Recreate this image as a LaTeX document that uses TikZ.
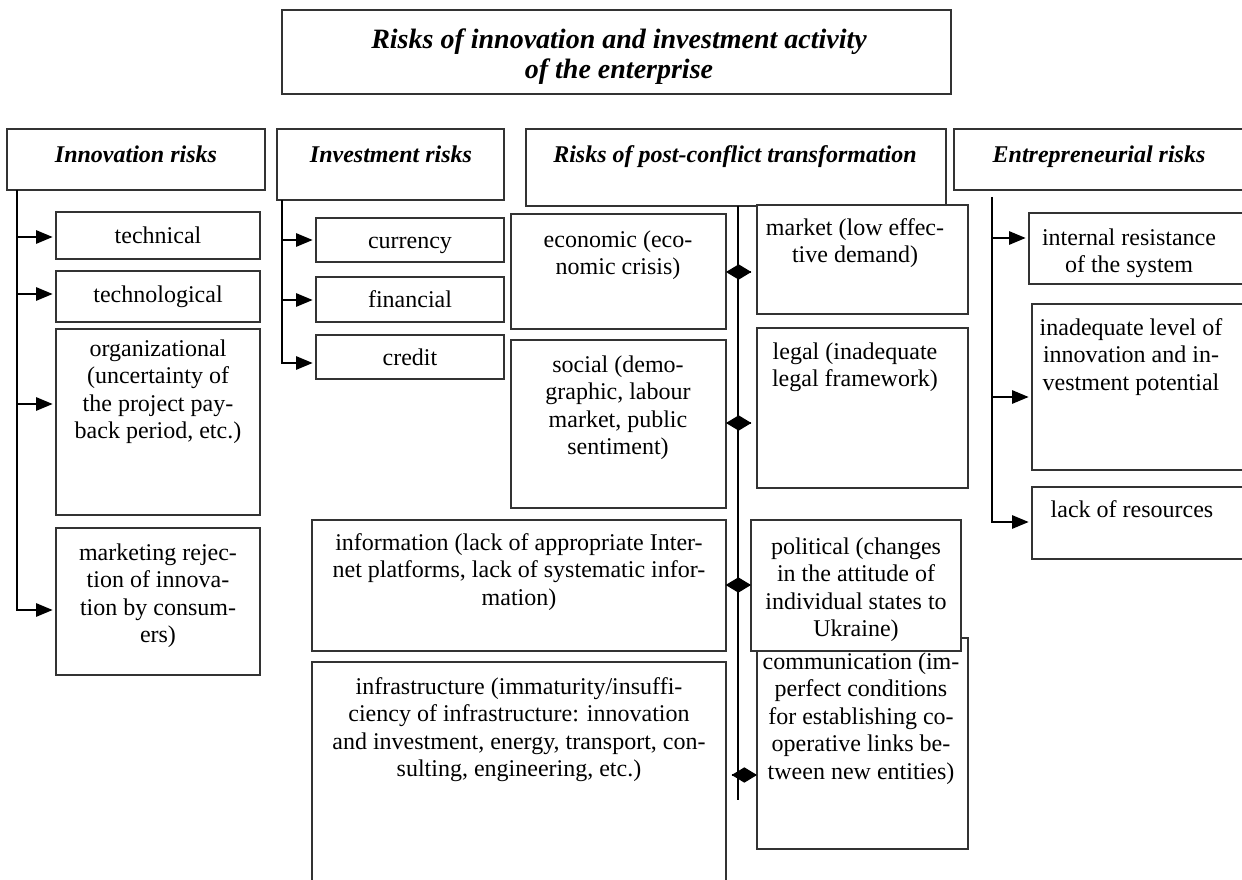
\documentclass[tikz,border=0pt]{standalone}
\usepackage{fontspec}
\setmainfont{Liberation Serif}
\usetikzlibrary{arrows.meta,fit}
\newcommand\bodyf{\fontsize{18}{20.6}\selectfont}
\newcommand\headf{\fontsize{18}{20.6}\selectfont\bfseries\itshape}
\newcommand\titlef{\fontsize{21}{22.8}\selectfont\bfseries\itshape}
\definecolor{boxc}{HTML}{333333}
\begin{document}
\begin{tikzpicture}[x=0.75pt,y=-0.75pt,
  box/.style={draw=boxc, line width=1.1pt, fill=white, inner sep=0pt, outer sep=0pt},
  txt/.style={font=\bodyf, align=center, inner sep=0pt, anchor=north},
  hd/.style={font=\headf, align=center, inner sep=0pt, anchor=north},
  ttl/.style={font=\titlef, align=center, inner sep=0pt, anchor=north},
  ln/.style={line width=1.5pt, black},
  arr/.style={ln, -{Triangle[length=12.5pt,width=10pt]}, shorten >=2.5pt},
  dia/.style={ln, -{Diamond[length=19pt,width=11.5pt]}},
]
\useasboundingbox (0,0) rectangle (1242,880);
\clip (0,0) rectangle (1242,880);
\fill[white] (0,0) rectangle (1242,880);

% title
\node[box, fit={(282,10) (951,94)}] (title) {};
\node[ttl] (title-t) at (619,27) {\strut Risks of innovation and investment activity\\of the enterprise};

% headers
\node[box, fit={(7,129) (265,190)}] (innov) {};
\node[hd] (innov-t) at (136,143) {\strut Innovation risks};
\node[box, fit={(277,129) (504,200)}] (invest) {};
\node[hd] (invest-t) at (391,143) {\strut Investment risks};
\node[box, fit={(526,129) (946,206)}] (post) {};
\node[hd] (post-t) at (735,143) {\strut Risks of post-conflict transformation};
\node[box, fit={(954,129) (1260,190)}] (entre) {};
\node[hd] (entre-t) at (1099,143) {\strut Entrepreneurial risks};

% innovation risks
\node[box, fit={(56,212) (260,259)}] (tech) {};
\node[txt] (tech-t) at (158,224) {\strut technical};
\node[box, fit={(56,271) (260,322)}] (techn) {};
\node[txt] (techn-t) at (158,283) {\strut technological};
\node[box, fit={(56,329) (260,515)}] (org) {};
\node[txt] (org-t) at (158,337) {\strut organizational\\(uncertainty of\\the project pay-\\back period, etc.)};
\node[box, fit={(56,528) (260,675)}] (mark) {};
\node[txt] (mark-t) at (158,541) {\strut marketing rejec-\\tion of innova-\\tion by consum-\\ers)};

% investment risks
\node[box, fit={(316,218) (504,262)}] (cur) {};
\node[txt] (cur-t) at (410,229) {\strut currency};
\node[box, fit={(316,277) (504,322)}] (fin) {};
\node[txt] (fin-t) at (410,288) {\strut financial};
\node[box, fit={(316,335) (504,379)}] (cred) {};
\node[txt] (cred-t) at (410,346) {\strut credit};

% post-conflict transformation risks
\node[box, fit={(511,214) (726,329)}] (econ) {};
\node[txt] (econ-t) at (618,228) {\strut economic (eco-\\nomic crisis)};
\node[box, fit={(511,340) (726,508)}] (soc) {};
\node[txt] (soc-t) at (618,353) {\strut social (demo-\\graphic, labour\\market, public\\sentiment)};
\node[box, fit={(757,205) (968,314)}] (mkt) {};
\node[txt] (mkt-t) at (855,216) {\strut market (low effec-\\tive demand)};
\node[box, fit={(757,328) (968,488)}] (legal) {};
\node[txt] (legal-t) at (855,340) {\strut legal (inadequate\\legal framework)};
\node[box, fit={(312,520) (726,651)}] (info) {};
\node[txt] (info-t) at (519,531) {\strut information (lack of appropriate Inter-\\net platforms, lack of systematic infor-\\mation)};
\node[box, fit={(312,662) (726,900)}] (infra) {};
\node[txt] (infra-t) at (519,675) {\strut infrastructure (immaturity/insuffi-\\ciency of infrastructure: innovation\\and investment, energy, transport, con-\\sulting, engineering, etc.)};
\node[box, fit={(757,638) (968,849)}] (comm) {};
\node[txt] (comm-t) at (861,650) {\strut communication (im-\\perfect conditions\\for establishing co-\\operative links be-\\tween new entities)};
\node[box, fit={(751,520) (961,651)}] (pol) {};
\node[txt] (pol-t) at (856,535) {\strut political (changes\\in the attitude of\\individual states to\\Ukraine)};

% entrepreneurial risks
\node[box, fit={(1029,213) (1260,284)}] (intr) {};
\node[txt] (intr-t) at (1129,226) {\strut internal resistance\\of the system};
\node[box, fit={(1032,304) (1260,470)}] (inad) {};
\node[txt] (inad-t) at (1131,316) {\strut inadequate level of\\innovation and in-\\vestment potential};
\node[box, fit={(1032,487) (1260,559)}] (lack) {};
\node[txt] (lack-t) at (1132,498) {\strut lack of resources};

% connectors: innovation
\coordinate (itop) at (17,190);
\coordinate (i1) at (17,237);
\coordinate (i2) at (17,294);
\coordinate (i3) at (17,404);
\coordinate (i4) at (17,610);
\draw[arr] (itop) -- (i4) -- (i4 -| mark.west);
\draw[arr] (i1) -- (i1 -| tech.west);
\draw[arr] (i2) -- (i2 -| techn.west);
\draw[arr] (i3) -- (i3 -| org.west);

% connectors: investment
\coordinate (vtop) at (282,200);
\coordinate (v1) at (282,240);
\coordinate (v2) at (282,300);
\coordinate (v3) at (282,363);
\draw[arr] (vtop) -- (v3) -- (v3 -| cred.west);
\draw[arr] (v1) -- (v1 -| cur.west);
\draw[arr] (v2) -- (v2 -| fin.west);

% connectors: post-conflict
\coordinate (ptop) at (737.5,206);
\coordinate (pbot) at (737.5,800);
\draw[ln] (ptop) -- (pbot);
\coordinate (p1) at (751,272);
\coordinate (p2) at (751,423);
\coordinate (p3) at (728,585);
\coordinate (p4) at (732,775);
\draw[dia] (p1) -- (p1 -| econ.east);
\draw[dia] (p2) -- (p2 -| soc.east);
\draw[dia] (p3) -- (p3 -| pol.west);
\draw[dia] (p4) -- (p4 -| comm.west);

% connectors: entrepreneurial
\coordinate (etop) at (992,197);
\coordinate (e1) at (992,238);
\coordinate (e2) at (992,397);
\coordinate (e3) at (992,522);
\draw[arr] (etop) -- (e3) -- (e3 -| lack.west);
\draw[arr] (e1) -- (e1 -| intr.west);
\draw[arr] (e2) -- (e2 -| inad.west);
\end{tikzpicture}
\end{document}
